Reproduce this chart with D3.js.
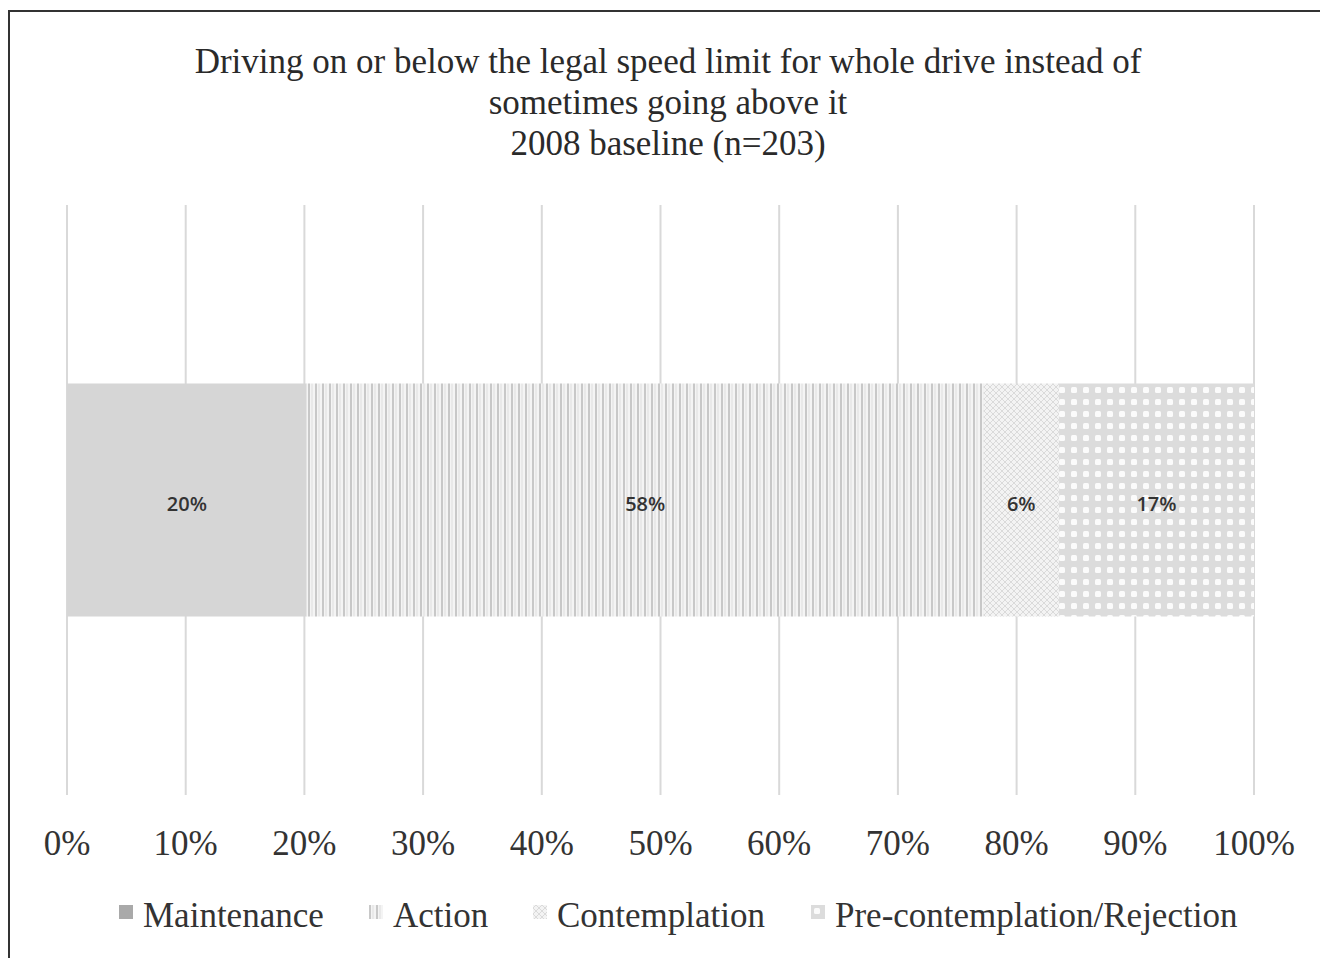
<!DOCTYPE html>
<meta charset="utf-8">
<head>
	<title>Driving on or below the legal speed limit</title>
	<script src="https://cdn.jsdelivr.net/npm/d3@7"></script>
	<style>
		body { margin: 0; background: #fff; }
		svg { display: block; }
	</style>
</head>
<body>
	<svg width="1320" height="958" id="chart"></svg>
	<script>
		// data (percent of respondents, 2008 baseline n=203)
		var stages = ["Maintenance", "Action", "Contemplation", "Pre-contemplation/Rejection"];
		var shares = [20.4, 57.6, 6.4, 16.6];
		var ticks = [0, 10, 20, 30, 40, 50, 60, 70, 80, 90, 100];
		var titleLines = [
			"Driving on or below the legal speed limit for whole drive instead of",
			"sometimes going above it",
			"2008 baseline (n=203)"
		];

		var svg = d3.select("#chart");
		var serif = "'Liberation Serif', 'DejaVu Serif', serif";

		// patterns for the four stages
		var defs = svg.append("defs");

		var pAct = defs.append("pattern").attr("id", "p1")
			.attr("patternUnits", "userSpaceOnUse").attr("width", 7).attr("height", 7);
		pAct.append("rect").attr("width", 7).attr("height", 7).attr("fill", "#f4f4f4");
		pAct.append("rect").attr("x", 0).attr("width", 2).attr("height", 7).attr("fill", "#c8c8c8");
		pAct.append("rect").attr("x", 3.5).attr("width", 1).attr("height", 7).attr("fill", "#dedede");

		var pCon = defs.append("pattern").attr("id", "p2")
			.attr("patternUnits", "userSpaceOnUse").attr("width", 6).attr("height", 6);
		pCon.append("rect").attr("width", 6).attr("height", 6).attr("fill", "#f3f3f3");
		pCon.append("path").attr("d", "M0,3 L3,0 L6,3 L3,6 Z").attr("fill", "none")
			.attr("stroke", "#dadada").attr("stroke-width", 1);

		var pPre = defs.append("pattern").attr("id", "p3")
			.attr("patternUnits", "userSpaceOnUse").attr("width", 12).attr("height", 12);
		pPre.append("rect").attr("width", 12).attr("height", 12).attr("fill", "#dcdcdc");
		pPre.append("rect").attr("x", 3).attr("y", 3).attr("width", 6).attr("height", 6)
			.attr("rx", 1.5).attr("fill", "#fbfbfb");

		var fills = ["#d6d6d6", "url(#p1)", "url(#p2)", "url(#p3)"];
		var swatchFills = ["#a9a9a9", "url(#p1)", "url(#p2)", "url(#p3)"];

		// frame
		svg.append("path")
			.attr("d", "M9,960 L9,11 L1322,11")
			.attr("fill", "none")
			.attr("stroke", "#333")
			.attr("stroke-width", 2);

		// title
		svg.append("g").selectAll("text")
			.data(titleLines)
			.enter()
			.append("text")
			.attr("x", 668)
			.attr("y", function (d, i) { return 73 + i * 41; })
			.attr("text-anchor", "middle")
			.attr("font-family", serif)
			.attr("font-size", "35px")
			.attr("fill", "#2a2a2a")
			.text(function (d) { return d; });

		var x = d3.scaleLinear().domain([0, 100]).range([67, 1254]);
		var plotTop = 205, plotBottom = 795;
		var y = d3.scaleBand().domain(["2008"]).range([plotTop, plotBottom])
			.paddingInner(0).paddingOuter(0.766);

		// gridlines
		svg.append("g").selectAll("line")
			.data(ticks)
			.enter()
			.append("line")
			.attr("x1", function (d) { return x(d); })
			.attr("x2", function (d) { return x(d); })
			.attr("y1", plotTop)
			.attr("y2", plotBottom)
			.attr("stroke", "#d9d9d9")
			.attr("stroke-width", 2);

		// tick labels
		svg.append("g").selectAll("text")
			.data(ticks)
			.enter()
			.append("text")
			.attr("x", function (d) { return x(d); })
			.attr("y", 855)
			.attr("text-anchor", "middle")
			.attr("font-family", serif)
			.attr("font-size", "35px")
			.attr("fill", "#333")
			.text(function (d) { return d + "%"; });

		// 100% stacked bar
		var row = {};
		stages.forEach(function (s, i) { row[s] = shares[i]; });
		var stack = d3.stack().keys(stages).offset(d3.stackOffsetExpand)([row]);

		var seg = svg.append("g").selectAll("g")
			.data(stack)
			.enter()
			.append("g");

		seg.append("rect")
			.attr("x", function (d) { return x(d[0][0] * 100); })
			.attr("width", function (d) { return x(d[0][1] * 100) - x(d[0][0] * 100); })
			.attr("y", y("2008"))
			.attr("height", y.bandwidth())
			.attr("fill", function (d, i) { return fills[i]; });

		seg.append("text")
			.attr("x", function (d) { return (x(d[0][0] * 100) + x(d[0][1] * 100)) / 2; })
			.attr("y", y("2008") + y.bandwidth() / 2)
			.attr("dy", "0.55em")
			.attr("text-anchor", "middle")
			.attr("font-family", "'Open Sans', 'Noto Sans', sans-serif")
			.attr("font-size", "20px")
			.attr("font-weight", 600)
			.attr("fill", "#333")
			.text(function (d, i) { return Math.round(shares[i]) + "%"; });

		// legend
		var legX = [119, 369, 533, 811];
		var leg = svg.append("g").selectAll("g")
			.data(stages)
			.enter()
			.append("g")
			.attr("transform", function (d, i) { return "translate(" + legX[i] + ",905)"; });

		leg.append("rect")
			.attr("width", 14)
			.attr("height", 14)
			.attr("fill", function (d, i) { return swatchFills[i]; });

		leg.append("text")
			.attr("x", 24)
			.attr("y", 22)
			.attr("font-family", serif)
			.attr("font-size", "35px")
			.attr("fill", "#333")
			.text(function (d) { return d; });
	</script>
</body>
